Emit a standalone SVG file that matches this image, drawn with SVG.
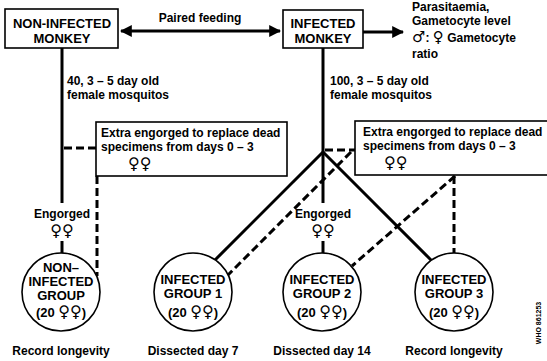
<svg xmlns="http://www.w3.org/2000/svg" width="547" height="361" viewBox="0 0 547 361">
<defs>
<style>
text{font-family:"Liberation Sans","DejaVu Sans",Arial,sans-serif;font-weight:bold;fill:#000}
.t{font-size:12px}
.b{font-size:13px;text-anchor:middle}
.c{text-anchor:middle}
.sym{font-family:"DejaVu Sans",sans-serif;font-weight:bold}
.box{fill:#fff;stroke:#000;stroke-width:1.6}
.s{stroke:#000;stroke-width:3;fill:none}
.d{stroke:#000;stroke-width:3;fill:none;stroke-dasharray:8 4}
.circ{fill:#fff;stroke:#000;stroke-width:1.6}
</style>
<marker id="ah" viewBox="0 0 10 10" refX="9" refY="5" markerWidth="4" markerHeight="4" orient="auto-start-reverse" markerUnits="strokeWidth">
<path d="M0,0 L10,5 L0,10 z" fill="#000"/>
</marker>
</defs>

<g id="connectors">
<line class="s" x1="121" y1="31" x2="280" y2="31" marker-start="url(#ah)" marker-end="url(#ah)"/>
<line class="s" x1="363" y1="32" x2="403" y2="32" marker-end="url(#ah)"/>
<line class="s" x1="62" y1="48" x2="62" y2="203"/>
<line class="s" x1="323" y1="48" x2="323" y2="203"/>
<line class="d" x1="64" y1="148" x2="96" y2="148"/>
<line class="d" x1="97" y1="176" x2="97" y2="276"/>
<line class="d" x1="325" y1="150" x2="355" y2="150"/>
<line class="s" x1="323" y1="152" x2="215" y2="260"/>
<line class="s" x1="323" y1="152" x2="432" y2="261"/>
<line class="d" x1="351" y1="152" x2="228" y2="275"/>
<line class="d" x1="455" y1="176" x2="352" y2="266"/>
<line class="d" x1="454" y1="176" x2="454" y2="253"/>
<line class="s" x1="62" y1="241" x2="62" y2="253"/>
<line class="s" x1="323" y1="241" x2="323" y2="253"/>
</g>

<g id="non-infected-monkey">
<rect class="box" x="5" y="9" width="113" height="39"/>
<text class="b" x="62" y="28">NON-INFECTED</text>
<text class="b" x="62" y="43">MONKEY</text>
</g>

<g id="infected-monkey">
<rect class="box" x="283" y="10" width="80" height="38"/>
<text class="b" x="323" y="28">INFECTED</text>
<text class="b" x="323" y="43">MONKEY</text>
</g>

<g id="paired-feeding-label">
<text class="t c" x="200" y="22">Paired feeding</text>
</g>

<g id="measurements">
<text class="t" x="412" y="11">Parasitaemia,</text>
<text class="t" x="412" y="25">Gametocyte level</text>
<text class="t" x="412" y="42"><tspan class="sym" font-size="15">♂</tspan>: <tspan class="sym" font-size="15">♀</tspan> Gametocyte</text>
<text class="t" x="412" y="58">ratio</text>
</g>

<g id="mosquito-labels">
<text class="t" x="67" y="85">40, 3 – 5 day old</text>
<text class="t" x="67" y="99">female mosquitos</text>
<text class="t" x="330" y="85">100, 3 – 5 day old</text>
<text class="t" x="330" y="99">female mosquitos</text>
</g>

<g id="extra-box-1">
<rect class="box" x="96" y="122" width="191" height="54"/>
<text class="t" x="101" y="137">Extra engorged to replace dead</text>
<text class="t" x="101" y="151">specimens from days 0 – 3</text>
<text class="sym" font-size="16" x="128" y="169">♀♀</text>
</g>

<g id="extra-box-2">
<rect class="box" x="355" y="121" width="200" height="54"/>
<text class="t" x="363" y="136">Extra engorged to replace dead</text>
<text class="t" x="363" y="150">specimens from days 0 – 3</text>
<text class="sym" font-size="16" x="384" y="168">♀♀</text>
</g>

<g id="engorged-1">
<text class="t c" x="62" y="218">Engorged</text>
<text class="sym c" font-size="16" x="62" y="236">♀♀</text>
</g>

<g id="engorged-2">
<text class="t c" x="323" y="218">Engorged</text>
<text class="sym c" font-size="16" x="323" y="236">♀♀</text>
</g>

<g id="non-infected-group">
<circle class="circ" cx="61" cy="292" r="39"/>
<text class="b" x="61" y="272">NON–</text>
<text class="b" x="61" y="286">INFECTED</text>
<text class="b" x="61" y="300">GROUP</text>
<text class="b" x="61" y="317">(20 <tspan class="sym" font-size="16">♀♀</tspan>)</text>
<text class="t c" x="61" y="355">Record longevity</text>
</g>

<g id="infected-group-1">
<circle class="circ" cx="193" cy="292" r="39"/>
<text class="b" x="193" y="284">INFECTED</text>
<text class="b" x="193" y="298">GROUP 1</text>
<text class="b" x="193" y="317">(20 <tspan class="sym" font-size="16">♀♀</tspan>)</text>
<text class="t c" x="193" y="355">Dissected day 7</text>
</g>

<g id="infected-group-2">
<circle class="circ" cx="322" cy="292" r="39"/>
<text class="b" x="322" y="284">INFECTED</text>
<text class="b" x="322" y="298">GROUP 2</text>
<text class="b" x="322" y="317">(20 <tspan class="sym" font-size="16">♀♀</tspan>)</text>
<text class="t c" x="322" y="355">Dissected day 14</text>
</g>

<g id="infected-group-3">
<circle class="circ" cx="454" cy="292" r="39"/>
<text class="b" x="454" y="284">INFECTED</text>
<text class="b" x="454" y="298">GROUP 3</text>
<text class="b" x="454" y="317">(20 <tspan class="sym" font-size="16">♀♀</tspan>)</text>
<text class="t c" x="454" y="355">Record longevity</text>
</g>

<g id="credit">
<text font-size="7" text-anchor="middle" transform="translate(541,323) rotate(-90)">WHO 861253</text>
</g>
</svg>
